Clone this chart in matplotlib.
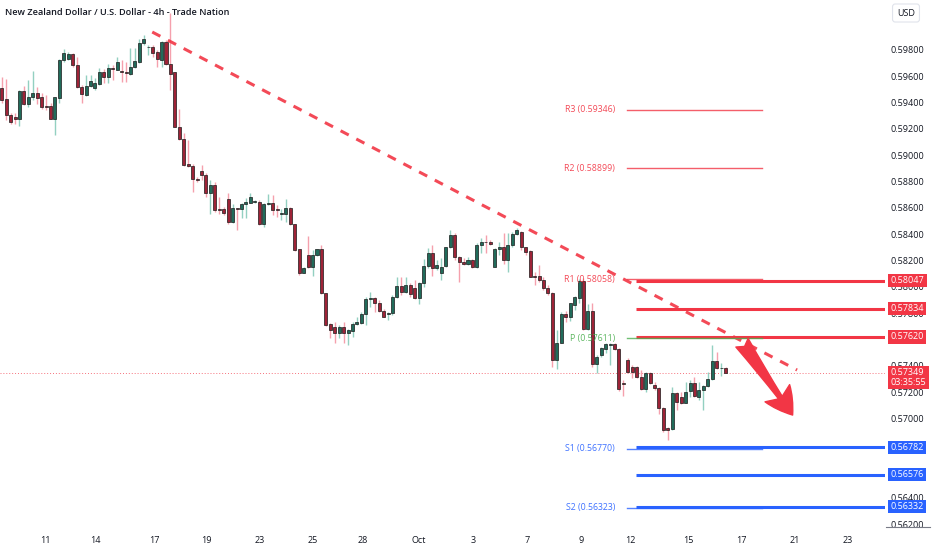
import numpy as np
import matplotlib.pyplot as plt

plt.rcParams['font.family'] = ['Open Sans', 'DejaVu Sans']

# NZDUSD 4h candles
opens = [0.59511, 0.59423, 0.59304, 0.59286, 0.59271, 0.59489, 0.59387, 0.59438, 0.59474, 0.59438,
         0.59370, 0.59372, 0.59276, 0.59430, 0.59721, 0.59727, 0.59767, 0.59683, 0.59514, 0.59456,
         0.59524, 0.59506, 0.59539, 0.59633, 0.59595, 0.59658, 0.59646, 0.59638, 0.59630, 0.59615,
         0.59671, 0.59709, 0.59853, 0.59818, 0.59823, 0.59780, 0.59721, 0.59861, 0.59691, 0.59628,
         0.59215, 0.59122, 0.58930, 0.58919, 0.58818, 0.58881, 0.58849, 0.58709, 0.58773, 0.58588,
         0.58588, 0.58666, 0.58494, 0.58596, 0.58593, 0.58628, 0.58639, 0.58646, 0.58646, 0.58477,
         0.58628, 0.58634, 0.58588, 0.58550, 0.58553, 0.58601, 0.58474, 0.58284, 0.58107, 0.58241,
         0.58153, 0.58241, 0.58284, 0.57950, 0.57718, 0.57697, 0.57652, 0.57697, 0.57647, 0.57667,
         0.57718, 0.57723, 0.57794, 0.57908, 0.57913, 0.57880, 0.57819, 0.57794, 0.57799, 0.57921,
         0.58009, 0.57963, 0.58014, 0.57989, 0.57913, 0.58027, 0.58158, 0.58254, 0.58140, 0.58102,
         0.58158, 0.58300, 0.58393, 0.58224, 0.58191, 0.58173, 0.58204, 0.58148, 0.58317, 0.58343,
         0.58343, 0.58153, 0.58285, 0.58305, 0.58204, 0.58317, 0.58401, 0.58419, 0.58300, 0.58272,
         0.58082, 0.58082, 0.58052, 0.57989, 0.57956, 0.57445, 0.57577, 0.57794, 0.57774, 0.57863,
         0.57913, 0.58047, 0.57678, 0.57820, 0.57415, 0.57483, 0.57526, 0.57559, 0.57564, 0.57526,
         0.57273, 0.57445, 0.57389, 0.57389, 0.57319, 0.57223, 0.57349, 0.57255, 0.57230, 0.57078,
         0.56926, 0.56919, 0.57192, 0.57167, 0.57121, 0.57212, 0.57268, 0.57167, 0.57217, 0.57248,
         0.57298, 0.57440, 0.57382, 0.57382]
highs = [0.59595, 0.59575, 0.59317, 0.59317, 0.59494, 0.59524, 0.59570, 0.59638, 0.59519, 0.59474,
         0.59456, 0.59393, 0.59443, 0.59727, 0.59802, 0.59785, 0.59772, 0.59747, 0.59532, 0.59608,
         0.59608, 0.59582, 0.59663, 0.59651, 0.59691, 0.59683, 0.59747, 0.59721, 0.59704, 0.59810,
         0.59810, 0.59878, 0.59909, 0.59835, 0.59835, 0.59797, 0.59866, 0.59873, 0.60078, 0.59633,
         0.59347, 0.59165, 0.59114, 0.58932, 0.58836, 0.58922, 0.58861, 0.58811, 0.58798, 0.58679,
         0.58603, 0.58709, 0.58628, 0.58596, 0.58639, 0.58671, 0.58715, 0.58659, 0.58659, 0.58634,
         0.58704, 0.58697, 0.58621, 0.58588, 0.58664, 0.58608, 0.58477, 0.58289, 0.58153, 0.58386,
         0.58279, 0.58289, 0.58315, 0.57955, 0.57728, 0.57735, 0.57710, 0.57735, 0.57677, 0.57735,
         0.57773, 0.57811, 0.57925, 0.57963, 0.57921, 0.57900, 0.57829, 0.57811, 0.57938, 0.58072,
         0.58072, 0.58077, 0.58027, 0.58052, 0.58039, 0.58209, 0.58292, 0.58317, 0.58204, 0.58216,
         0.58305, 0.58431, 0.58406, 0.58234, 0.58216, 0.58229, 0.58209, 0.58335, 0.58368, 0.58393,
         0.58355, 0.58292, 0.58343, 0.58406, 0.58406, 0.58419, 0.58444, 0.58426, 0.58305, 0.58279,
         0.58115, 0.58166, 0.58077, 0.58014, 0.57964, 0.57673, 0.57812, 0.57820, 0.57880, 0.57931,
         0.58057, 0.58065, 0.57870, 0.57880, 0.57483, 0.57546, 0.57572, 0.57577, 0.57572, 0.57534,
         0.57293, 0.57458, 0.57407, 0.57400, 0.57369, 0.57357, 0.57357, 0.57281, 0.57243, 0.57086,
         0.56939, 0.57243, 0.57205, 0.57205, 0.57281, 0.57293, 0.57319, 0.57281, 0.57255, 0.57357,
         0.57559, 0.57508, 0.57420, 0.57394]
lows = [0.59393, 0.59266, 0.59233, 0.59236, 0.59221, 0.59377, 0.59362, 0.59418, 0.59387, 0.59347,
        0.59342, 0.59271, 0.59152, 0.59393, 0.59709, 0.59721, 0.59671, 0.59506, 0.59398, 0.59448,
        0.59519, 0.59494, 0.59532, 0.59544, 0.59549, 0.59570, 0.59646, 0.59557, 0.59557, 0.59608,
        0.59658, 0.59701, 0.59835, 0.59759, 0.59747, 0.59671, 0.59671, 0.59683, 0.59494, 0.59210,
        0.59114, 0.58919, 0.58912, 0.58722, 0.58798, 0.58811, 0.58684, 0.58550, 0.58570, 0.58553,
        0.58545, 0.58477, 0.58487, 0.58431, 0.58520, 0.58520, 0.58634, 0.58639, 0.58472, 0.58456,
        0.58621, 0.58545, 0.58532, 0.58507, 0.58494, 0.58469, 0.58274, 0.58090, 0.58102, 0.58140,
        0.58082, 0.58234, 0.57945, 0.57705, 0.57609, 0.57571, 0.57609, 0.57571, 0.57558, 0.57621,
        0.57710, 0.57718, 0.57710, 0.57849, 0.57811, 0.57811, 0.57768, 0.57748, 0.57786, 0.57913,
        0.57938, 0.57951, 0.57925, 0.57905, 0.57870, 0.57996, 0.58140, 0.58082, 0.58128, 0.58052,
        0.58153, 0.58292, 0.58204, 0.58039, 0.58163, 0.58166, 0.58140, 0.58140, 0.58254, 0.58254,
        0.58317, 0.58148, 0.58242, 0.58173, 0.58115, 0.58305, 0.58393, 0.58279, 0.58242, 0.58072,
        0.58014, 0.58039, 0.57976, 0.57938, 0.57389, 0.57374, 0.57572, 0.57736, 0.57744, 0.57825,
        0.57875, 0.57673, 0.57673, 0.57394, 0.57349, 0.57470, 0.57496, 0.57407, 0.57521, 0.57212,
        0.57172, 0.57349, 0.57306, 0.57306, 0.57217, 0.57205, 0.57263, 0.57217, 0.57035, 0.56901,
        0.56838, 0.56914, 0.57066, 0.57111, 0.57116, 0.57167, 0.57167, 0.57142, 0.57066, 0.57243,
        0.57293, 0.57374, 0.57324, 0.57344]
closes = [0.59418, 0.59304, 0.59248, 0.59271, 0.59489, 0.59387, 0.59438, 0.59474, 0.59430, 0.59362,
          0.59362, 0.59276, 0.59438, 0.59721, 0.59777, 0.59767, 0.59683, 0.59514, 0.59463, 0.59524,
          0.59560, 0.59549, 0.59633, 0.59590, 0.59658, 0.59651, 0.59704, 0.59628, 0.59625, 0.59671,
          0.59716, 0.59853, 0.59883, 0.59823, 0.59777, 0.59727, 0.59858, 0.59691, 0.59615, 0.59215,
          0.59122, 0.58924, 0.58919, 0.58816, 0.58811, 0.58846, 0.58709, 0.58773, 0.58583, 0.58580,
          0.58563, 0.58494, 0.58596, 0.58591, 0.58628, 0.58641, 0.58684, 0.58649, 0.58477, 0.58628,
          0.58634, 0.58583, 0.58580, 0.58558, 0.58601, 0.58474, 0.58279, 0.58107, 0.58140, 0.58153,
          0.58241, 0.58284, 0.57950, 0.57710, 0.57672, 0.57652, 0.57697, 0.57652, 0.57672, 0.57718,
          0.57735, 0.57794, 0.57908, 0.57913, 0.57880, 0.57819, 0.57774, 0.57799, 0.57921, 0.58009,
          0.57963, 0.58011, 0.57946, 0.57913, 0.58027, 0.58158, 0.58254, 0.58140, 0.58166, 0.58153,
          0.58300, 0.58393, 0.58224, 0.58186, 0.58171, 0.58204, 0.58148, 0.58317, 0.58343, 0.58338,
          0.58323, 0.58287, 0.58305, 0.58204, 0.58317, 0.58401, 0.58431, 0.58305, 0.58267, 0.58077,
          0.58077, 0.58052, 0.57989, 0.57951, 0.57445, 0.57577, 0.57792, 0.57774, 0.57875, 0.57921,
          0.58047, 0.57678, 0.57820, 0.57415, 0.57465, 0.57534, 0.57564, 0.57564, 0.57526, 0.57223,
          0.57263, 0.57357, 0.57357, 0.57319, 0.57223, 0.57349, 0.57268, 0.57230, 0.57078, 0.56914,
          0.56914, 0.57192, 0.57129, 0.57121, 0.57205, 0.57268, 0.57172, 0.57217, 0.57248, 0.57298,
          0.57440, 0.57382, 0.57384, 0.57349]

# date axis (position in bars)
date_labels = ['11', '14', '17', '19', '23', '25', '28', 'Oct', '3', '7', '9', '12', '15', '17', '21', '23']
date_pos = [9.8, 21.2, 34.3, 46.0, 58.2, 70.1, 81.4, 93.8, 106.2, 118.3, 130.5, 141.5, 154.6, 166.5, 178.5, 190.6]

# pivot points and support / resistance levels
pivot_names = ['R3', 'R2', 'R1', 'P', 'S1', 'S2']
pivot_values = [0.59346, 0.58899, 0.58058, 0.57611, 0.56770, 0.56323]
resistance = [0.58047, 0.57834, 0.57620]
support = [0.56782, 0.56576, 0.56332]
last_price = 0.57349
countdown = '03:35:55'

# drawings
trend_x = [33.9, 179.1]
trend_y = [0.59934, 0.57369]
arrow_start = (166.7, 0.57576)
arrow_end = (178.1, 0.57027)

RED = '#f23645'
BLUE = '#2962ff'
GREEN = '#4caf50'
TXT = '#131722'

W, H = 932, 550
fig = plt.figure(figsize=(W / 100, H / 100), dpi=100)
ax = fig.add_axes([0, 22 / H, 885 / W, 528 / H])
ax.set_xlim(-0.38, 198.9)
ax.set_ylim(0.56170, 0.60177)
for s in ax.spines.values():
    s.set_visible(False)

# candles
x = np.arange(len(opens))
o = np.array(opens); c = np.array(closes); hi = np.array(highs); lo = np.array(lows)
up = c >= o
ax.vlines(x[up], lo[up], hi[up], color='#93d0c1', lw=1.0, zorder=2)
ax.vlines(x[~up], lo[~up], hi[~up], color='#f5a0ad', lw=1.0, zorder=2)
bw = 0.68
for i in range(len(x)):
    bottom = min(o[i], c[i])
    h = max(abs(c[i] - o[i]), 0.00002)
    ax.add_patch(plt.Rectangle((x[i] - bw / 2, bottom), bw, h,
                               fc='#216b5a' if up[i] else '#9e2337',
                               ec='#1b1b1b', lw=0.5, zorder=3))

# trend line
ax.plot(trend_x, trend_y, color=RED, lw=2.2, alpha=0.9, dashes=(3.0, 2.8), zorder=4,
        solid_capstyle='butt', dash_capstyle='butt')

# last price dotted line
ax.axhline(last_price, color=RED, lw=0.7, ls=(0, (1, 2)), alpha=0.7, zorder=1)

# thick level lines
for v in resistance:
    ax.plot([142.9, 198.9], [v, v], color=RED, lw=2.2, zorder=4, solid_capstyle='butt')
for v in support:
    ax.plot([142.9, 198.9], [v, v], color=BLUE, lw=2.2, zorder=4, solid_capstyle='butt')

# pivot lines with labels
for name, v in zip(pivot_names, pivot_values):
    col = GREEN if name == 'P' else (RED if name.startswith('R') else BLUE)
    ax.plot([140.8, 171.2], [v, v], color=col, lw=1.0, alpha=0.8, zorder=5)
    ax.text(138.1, v, f'{name} ({v:.5f})', color=col, alpha=0.9, fontsize=6.3,
            ha='right', va='center', zorder=5)

# arrow
ax.annotate('', xy=arrow_end, xytext=arrow_start,
            arrowprops=dict(arrowstyle='fancy,head_length=0.8,head_width=0.9,tail_width=0.45',
                            color=RED, shrinkA=0, shrinkB=0, mutation_scale=24), zorder=6)

# axes ticks
ax.yaxis.tick_right()
ax.set_yticks(np.arange(0.562, 0.5981, 0.002))
ax.yaxis.set_major_formatter(plt.FormatStrFormatter('%.5f'))
ax.tick_params(axis='y', length=0, pad=4, labelsize=6.5, labelcolor=TXT)
ax.set_xticks(date_pos, date_labels)
ax.tick_params(axis='x', length=0, pad=5.5, labelsize=6.5, labelcolor=TXT)

# price labels on the scale
def scale_label(v, text, col, dy=0):
    ax.annotate(text, xy=(1, v), xycoords=('axes fraction', 'data'), xytext=(4.1, dy),
                textcoords='offset points', ha='left', va='center', fontsize=6.5, color='white',
                annotation_clip=False, zorder=10, linespacing=1.1,
                bbox=dict(boxstyle='square,pad=0.25', fc=col, ec='none'))

for v in resistance:
    scale_label(v, f'{v:.5f}', RED)
for v in support:
    scale_label(v, f'{v:.5f}', BLUE)
scale_label(last_price, f'{last_price:.5f}\n{countdown}', RED, dy=-3.6)

fig.text(5 / W, 1 - 12.5 / H, 'New Zealand Dollar / U.S. Dollar - 4h - Trade Nation',
         fontsize=6.6, fontweight='semibold', color=TXT, ha='left', va='center')
fig.text(906 / W, 1 - 13 / H, 'USD', fontsize=6.5, color=TXT, ha='center', va='center',
         bbox=dict(boxstyle='round,pad=0.5,rounding_size=0.3', fc='white', ec='#e0e3eb', lw=0.8))
fig.add_artist(plt.Line2D([886 / W, 930 / W], [1 - 527 / H, 1 - 527 / H], color='#787b86', lw=0.8))

fig.savefig('out.png', dpi=100, facecolor='white')
